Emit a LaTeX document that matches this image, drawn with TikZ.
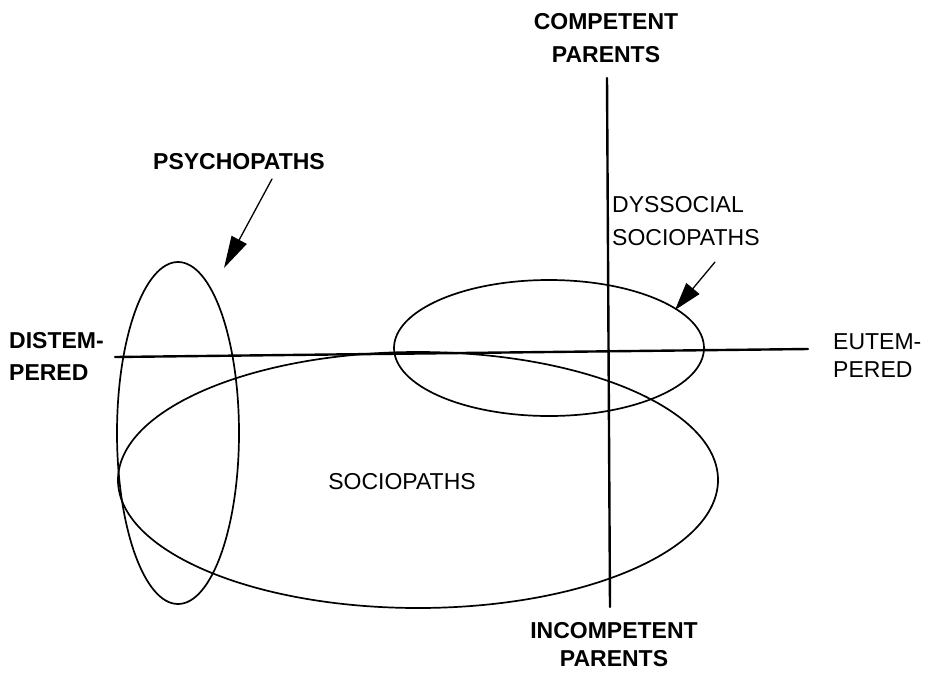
\documentclass[tikz,border=0pt]{standalone}
\usepackage{fontspec}
\setmainfont{Liberation Sans}
\usetikzlibrary{arrows.meta}
\begin{document}
\begin{tikzpicture}[x=1pt,y=-1pt,>={Triangle[length=32pt,width=17pt]},line join=round,line cap=round,
    lbl/.style={font=\fontsize{23}{33}\selectfont,inner sep=0pt,align=center},
    blbl/.style={lbl,font=\fontsize{23}{33}\selectfont\bfseries},
    axis/.style={line width=2.4pt},
    set/.style={line width=1.7pt}]
        \useasboundingbox (0,0) rectangle (925,672);
        % axes
        \coordinate (dis) at (115,357); \coordinate (eut) at (808,349);
        \coordinate (com) at (607,78);  \coordinate (inc) at (610,607);
        \draw[axis] (dis) -- (eut);
        \draw[axis] (com) -- (inc);
        % the three groups
        \draw[set] (178,433) ellipse [x radius=61, y radius=171];
        \draw[set] (418,480) ellipse [x radius=300, y radius=128];
        \draw[set] (549,348) ellipse [x radius=155, y radius=68];
        % labels
        \node[blbl] (comp) at (606,38) {COMPETENT\\PARENTS};
        \node[blbl,font=\fontsize{23}{28}\selectfont\bfseries] (incomp) at (614,645) {INCOMPETENT\\PARENTS};
        \node[blbl,anchor=west,align=left,font=\fontsize{23}{32}\selectfont\bfseries] (distemp) at (9,356) {DISTEM-\\PERED};
        \node[lbl,anchor=west,align=left,font=\fontsize{23}{28}\selectfont] (eutemp) at (833,356) {EUTEM-\\PERED};
        \node[blbl] (psycho) at (239,162) {PSYCHOPATHS};
        \node[lbl,anchor=west,align=left] (dyssoc) at (612,221) {DYSSOCIAL\\SOCIOPATHS};
        \node[lbl] (socio) at (402,482) {SOCIOPATHS};
        % pointers
        \coordinate (psyFrom) at (272,179); \coordinate (psyTip) at (224,268);
        \coordinate (dysFrom) at (715,262); \coordinate (dysTip) at (675,310);
        \draw[->,set,line width=1.3pt] (psyFrom) -- (psyTip);
        \draw[->,set,line width=1.3pt,>={Triangle[length=28pt,width=17pt]}] (dysFrom) -- (dysTip);
    \end{tikzpicture}
\end{document}
